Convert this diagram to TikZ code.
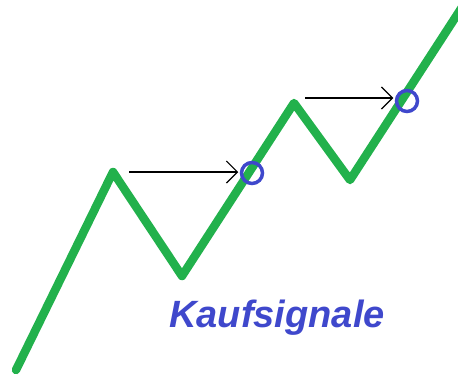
\documentclass[tikz,border=0pt]{standalone}
\usepackage{fontspec}
\setmainfont{Liberation Sans}
\usetikzlibrary{arrows.meta}
\definecolor{kursgruen}{RGB}{34,177,76}
\definecolor{signalblau}{RGB}{63,72,204}
\begin{document}
\begin{tikzpicture}[x=1pt,y=-1pt,
        kurs/.style={line width=8.5pt, color=kursgruen, line join=round, line cap=round},
        signal/.style={circle, draw=signalblau, line width=3.5pt, minimum size=21pt, inner sep=0pt},
        pfeil/.style={-{Straight Barb[length=11pt,width=22pt]}, line width=1.2pt, shorten >=1.5pt}]
                \useasboundingbox (0,0) rectangle (458,375);

                % Kursverlauf
                \coordinate (p0) at (16,370);
                \coordinate (p1) at (113,172);
                \coordinate (p2) at (182,276);
                \coordinate (p3) at (294,103);
                \coordinate (p4) at (350,180);
                \coordinate (p5) at (466,1);
                \draw[kurs] (p0) -- (p1) -- (p2) -- (p3) -- (p4) -- (p5);

                % Signale
                \node[signal] (s1) at (252,173) {};
                \node[signal] (s2) at (407,101) {};

                \coordinate (a1) at (129,172);
                \coordinate (a2) at (305,98);
                \draw[pfeil] (a1) -- (a1 -| s1.west);
                \draw[pfeil] (a2) -- (a2 -| s2.west);

                \node[text=signalblau, font=\fontsize{38}{42}\selectfont\bfseries\itshape] (t) at (277,318) {Kaufsignale};
            \end{tikzpicture}
\end{document}
